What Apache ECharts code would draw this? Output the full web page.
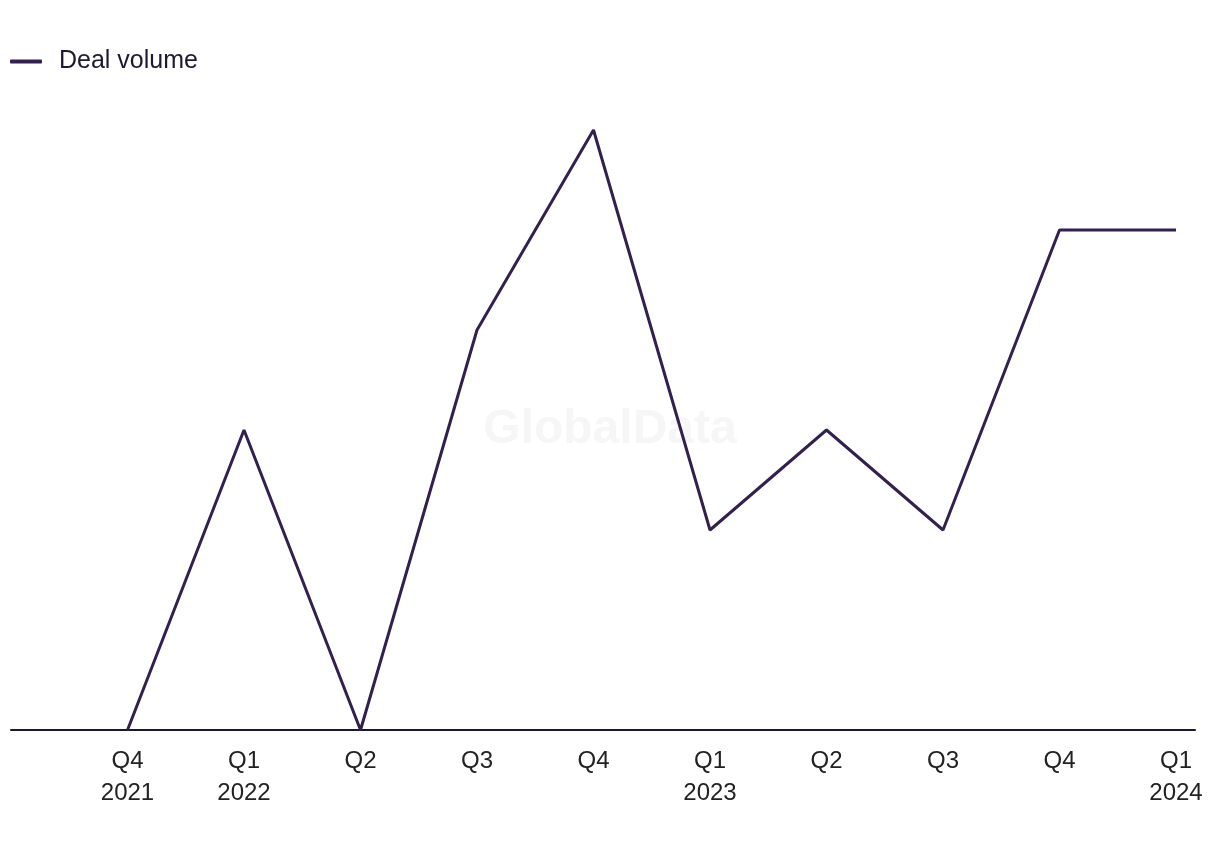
<!DOCTYPE html>
<html>
<head>
<meta charset="utf-8">
<script src="https://cdn.jsdelivr.net/npm/echarts@6/dist/echarts.min.js"></script>
<style>html,body{margin:0;padding:0;background:#fff;}#c{width:1220px;height:850px;}</style>
</head>
<body>
<div id="c"></div>
<script>
const categories = ['Q4\n2021','Q1\n2022','Q2','Q3','Q4','Q1\n2023','Q2','Q3','Q4','Q1\n2024'];
const dealVolume = [0, 3, 0, 4, 6, 2, 3, 2, 5, 5];
const seriesName = 'Deal volume';

const chart = echarts.init(document.getElementById('c'), null, {renderer: 'canvas'});
chart.setOption({
  backgroundColor: '#ffffff',
  animation: false,
  graphic: [{
    type: 'text', left: 'center', top: 406, z: -10, silent: true,
    style: {text: 'GlobalData', font: 'bold 48px "Liberation Sans", Arial, sans-serif', fill: '#f6f6f6'}
  }],
  legend: {
    left: 5, top: 44, padding: 5,
    icon: 'roundRect', itemWidth: 32, itemHeight: 4,
    textStyle: {fontSize: 25, color: '#1c1a33', fontFamily: '"Liberation Sans", Arial, sans-serif', padding: [0,0,0,12]},
    data: [seriesName]
  },
  grid: {left: 11, right: 25, top: 130, bottom: 120, containLabel: false},
  xAxis: {
    type: 'value', min: -1, max: 9.163, interval: 1,
    splitLine: {show: false},
    axisTick: {show: false},
    axisLine: {show: true, lineStyle: {color: '#1a1830', width: 2}},
    axisLabel: {
      margin: 15, fontSize: 24, lineHeight: 32, color: '#222222',
      fontFamily: '"Liberation Sans", Arial, sans-serif',
      showMinLabel: false, showMaxLabel: false,
      formatter: function (v) { return (Number.isInteger(v) && v >= 0 && v < categories.length) ? categories[v] : ''; }
    }
  },
  yAxis: {type: 'value', min: 0, max: 6, show: false, splitLine: {show: false}},
  series: [{
    name: seriesName, type: 'line', symbol: 'none',
    lineStyle: {color: '#33204f', width: 3},
    itemStyle: {color: '#33204f'},
    data: dealVolume.map((v, i) => [i, v])
  }]
});
</script>
</body>
</html>
